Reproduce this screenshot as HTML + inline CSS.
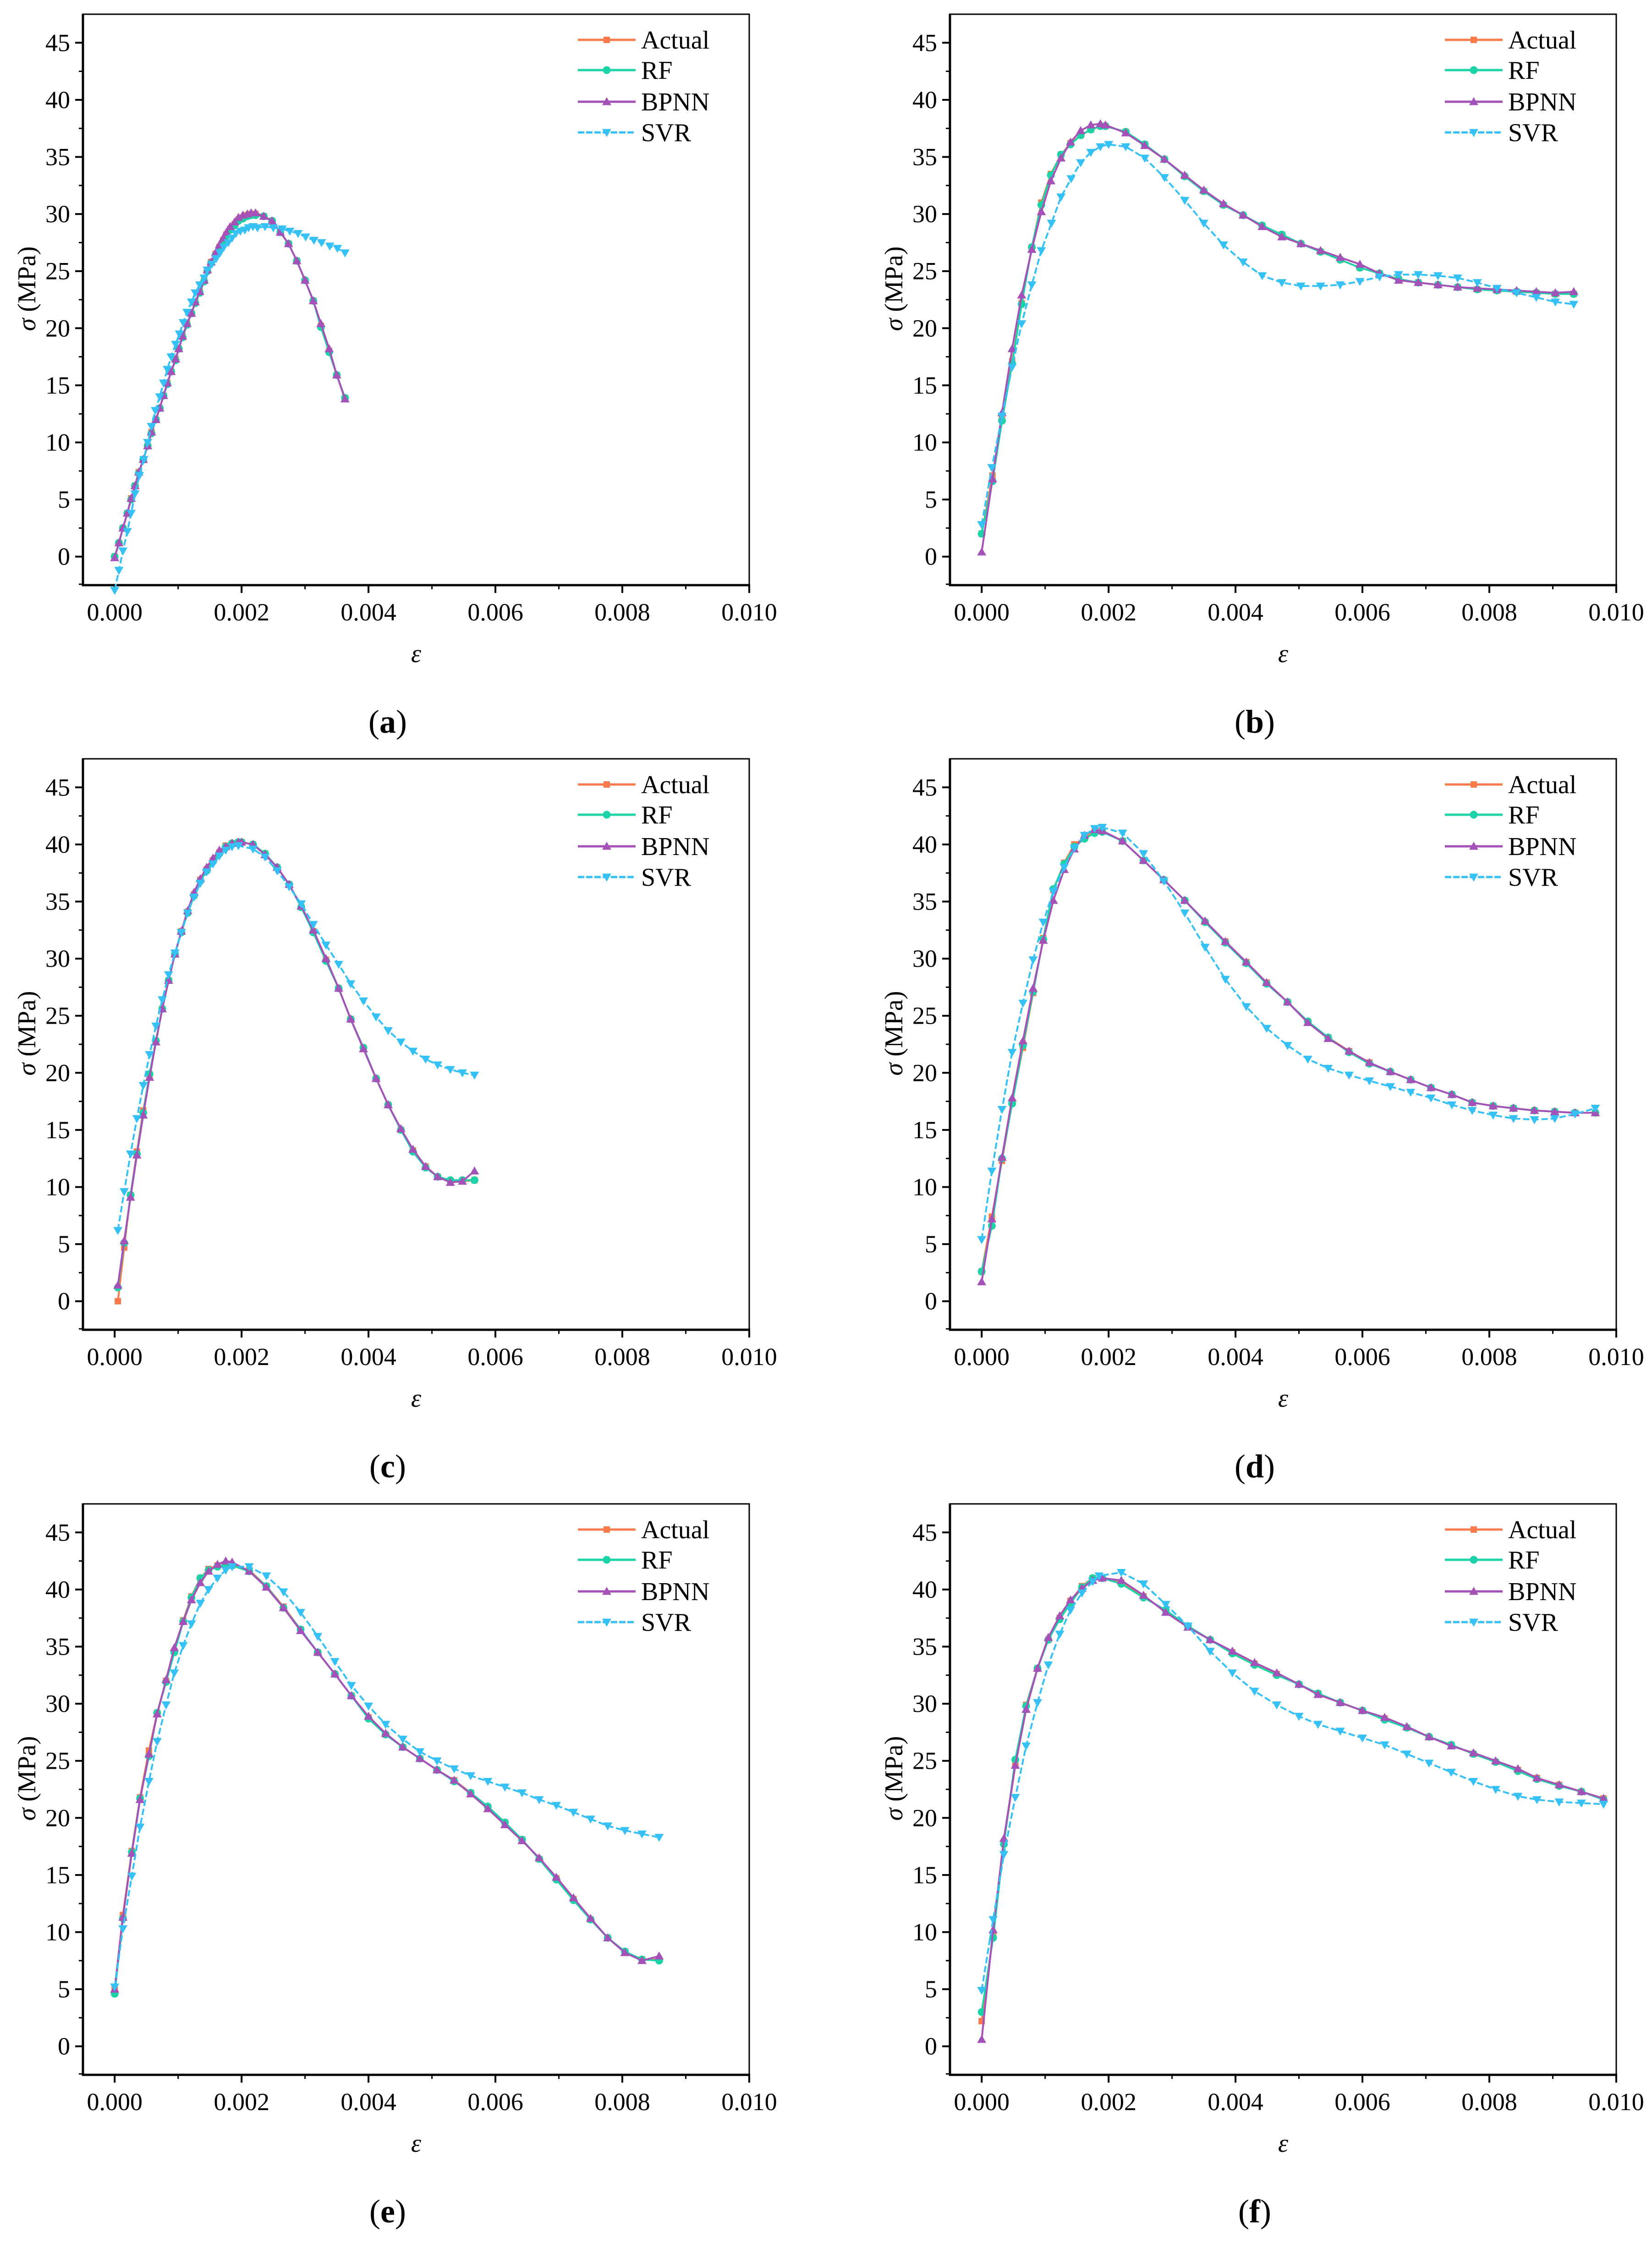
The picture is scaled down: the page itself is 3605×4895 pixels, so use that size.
<!DOCTYPE html>
<html><head><meta charset="utf-8">
<style>
html,body{margin:0;padding:0;background:#fff;}
svg{display:block;font-family:"Liberation Serif","DejaVu Serif",serif;}
svg text{font-family:"Liberation Serif","DejaVu Serif",serif;}
</style></head>
<body>
<svg id="fig" width="3605" height="4895" viewBox="0 0 3605 4895" xmlns="http://www.w3.org/2000/svg"></svg>
<script>
// ---------- data (strain in units of 0.001, stress in MPa) ----------
const aX = [0,0.067,0.13,0.2,0.26,0.32,0.38,0.45,0.52,0.58,0.65,0.71,0.77,0.83,0.89,0.96,1.01,1.07,1.14,1.21,1.27,1.34,1.41,1.46,1.52,1.59,1.65,1.71,1.76,1.82,1.89,1.95,2.02,2.09,2.15,2.22,2.35,2.48,2.61,2.74,2.87,3.0,3.13,3.25,3.38,3.5,3.63];
const aActual = [0,1.2,2.5,3.8,5.1,6.2,7.4,8.5,9.7,10.9,12.0,13.0,14.1,15.2,16.2,17.3,18.2,19.3,20.4,21.3,22.3,23.2,24.2,25.1,25.8,26.5,27.1,27.7,28.2,28.7,29.1,29.5,29.7,29.9,30.0,30.0,29.8,29.4,28.4,27.4,25.9,24.2,22.4,20.2,18.0,15.9,13.9];
const aRF = [0,1.2,2.5,3.8,5.0,6.2,7.3,8.5,9.7,10.8,12.0,13.0,14.1,15.1,16.2,17.2,18.2,19.2,20.3,21.3,22.2,23.1,24.1,25.0,25.7,26.4,27.0,27.6,28.1,28.6,29.0,29.4,29.6,29.8,29.9,29.9,29.8,29.4,28.4,27.4,25.9,24.2,22.4,20.1,17.9,15.9,13.9];
const aBPNN = [-0.1,1.2,2.5,3.8,5.1,6.2,7.4,8.5,9.7,10.9,12.0,13.0,14.1,15.2,16.2,17.3,18.2,19.3,20.4,21.3,22.3,23.2,24.2,25.1,25.8,26.6,27.3,27.9,28.4,28.9,29.3,29.7,29.9,30.0,30.1,30.1,29.8,29.4,28.4,27.4,25.9,24.2,22.4,20.4,18.2,15.9,13.8];
const aSvrX = [0,0.067,0.13,0.2,0.26,0.32,0.39,0.46,0.52,0.58,0.64,0.71,0.77,0.83,0.89,0.96,1.02,1.08,1.14,1.21,1.27,1.34,1.41,1.46,1.53,1.6,1.66,1.72,1.79,1.85,1.91,1.98,2.05,2.11,2.18,2.25,2.37,2.5,2.64,2.76,2.89,3.01,3.14,3.26,3.39,3.51,3.63];
const aSVR = [-2.95,-1.2,0.5,2.2,3.8,5.5,7.1,8.5,10.0,11.4,12.8,14.0,15.2,16.4,17.5,18.6,19.5,20.5,21.4,22.3,23.1,23.8,24.4,25.1,25.6,26.1,26.6,27.1,27.5,27.9,28.3,28.5,28.6,28.8,28.9,28.8,28.9,28.8,28.7,28.5,28.3,28.0,27.7,27.5,27.2,27.0,26.6];

const bX = [0,0.17,0.32,0.48,0.63,0.79,0.94,1.09,1.25,1.4,1.56,1.72,1.87,1.95,2.27,2.57,2.88,3.2,3.5,3.81,4.12,4.42,4.73,5.03,5.34,5.65,5.96,6.27,6.57,6.88,7.19,7.5,7.81,8.12,8.43,8.74,9.04,9.33];
const bActual = [2.0,7.1,12.1,17.1,22.2,27.1,31.0,33.5,35.2,36.2,36.9,37.4,37.7,37.7,37.2,36.1,34.8,33.3,32.0,30.8,29.9,29.0,28.2,27.4,26.7,26.0,25.3,24.8,24.3,24.0,23.8,23.6,23.4,23.3,23.2,23.1,23.0,23.0];
const bRF = [2.0,6.6,11.9,16.9,22.1,27.1,30.8,33.4,35.2,36.1,36.9,37.4,37.7,37.7,37.2,36.1,34.8,33.3,32.0,30.8,29.9,29.0,28.2,27.4,26.7,26.0,25.3,24.8,24.3,24.0,23.8,23.6,23.4,23.3,23.2,23.1,23.0,23.0];
const bBPNN = [0.4,6.8,12.6,18.2,22.9,26.9,30.2,32.9,34.9,36.3,37.3,37.8,37.9,37.8,37.1,36.0,34.8,33.4,32.1,30.9,29.9,28.9,28.0,27.4,26.8,26.2,25.6,24.8,24.2,24.0,23.8,23.6,23.5,23.4,23.3,23.2,23.1,23.2];
const bSvrX = [0,0.16,0.32,0.48,0.63,0.79,0.94,1.1,1.25,1.41,1.56,1.72,1.87,2.0,2.27,2.57,2.88,3.2,3.5,3.81,4.12,4.42,4.73,5.03,5.34,5.65,5.96,6.27,6.57,6.88,7.19,7.5,7.81,8.12,8.43,8.74,9.04,9.33];
const bSVR = [2.8,7.8,12.3,16.6,20.4,23.8,26.8,29.2,31.5,33.1,34.5,35.4,35.9,36.1,35.9,34.9,33.2,31.2,29.2,27.3,25.8,24.6,24.0,23.7,23.7,23.8,24.1,24.5,24.7,24.7,24.6,24.4,24.0,23.5,23.1,22.7,22.3,22.1];

const cX = [0.05,0.15,0.25,0.35,0.45,0.55,0.65,0.75,0.85,0.95,1.05,1.15,1.25,1.35,1.45,1.55,1.65,1.75,1.85,1.95,2.0,2.18,2.37,2.56,2.75,2.94,3.13,3.33,3.53,3.72,3.92,4.12,4.31,4.51,4.7,4.9,5.09,5.29,5.48,5.67];
const cActual = [0.0,4.7,9.3,13.1,16.7,19.8,22.8,25.6,28.1,30.4,32.4,34.1,35.6,36.9,37.8,38.6,39.3,39.9,40.1,40.2,40.2,40.0,39.2,38.0,36.5,34.5,32.4,29.9,27.4,24.7,22.2,19.5,17.2,15.0,13.2,11.8,10.9,10.5,10.5,10.6];
const cRF = [1.2,5.1,9.3,12.9,16.5,19.9,22.8,25.6,28.1,30.4,32.3,34.0,35.5,36.8,37.7,38.5,39.2,39.8,40.1,40.2,40.2,40.0,39.2,38.0,36.5,34.5,32.3,29.8,27.4,24.7,22.2,19.5,17.2,15.0,13.1,11.7,10.9,10.6,10.6,10.6];
const cBPNN = [1.4,5.3,9.1,12.8,16.3,19.6,22.7,25.6,28.1,30.4,32.4,34.2,35.8,37.0,38.0,38.8,39.5,39.8,40.1,40.2,40.2,40.0,39.1,38.0,36.5,34.6,32.5,30.0,27.4,24.7,22.1,19.5,17.2,15.1,13.3,11.8,10.9,10.4,10.5,11.4];
const cSvrX = [0.05,0.15,0.25,0.35,0.45,0.55,0.65,0.75,0.85,0.95,1.05,1.15,1.25,1.35,1.45,1.55,1.65,1.75,1.85,1.95,2.18,2.37,2.56,2.75,2.94,3.13,3.33,3.53,3.72,3.92,4.12,4.31,4.51,4.7,4.9,5.09,5.29,5.48,5.67];
const cSVR = [6.2,9.6,12.9,16.0,18.9,21.6,24.1,26.4,28.6,30.5,32.3,34.0,35.4,36.6,37.6,38.3,39.0,39.5,39.8,39.9,39.6,38.9,37.7,36.3,34.8,33.0,31.2,29.5,27.8,26.3,24.9,23.7,22.7,21.9,21.2,20.7,20.3,20.0,19.8];

const dX = [0,0.16,0.32,0.48,0.65,0.81,0.97,1.13,1.3,1.46,1.62,1.78,1.9,2.22,2.55,2.87,3.2,3.52,3.84,4.17,4.49,4.82,5.14,5.46,5.79,6.11,6.44,6.76,7.08,7.41,7.73,8.06,8.38,8.71,9.03,9.35,9.67];
const dActual = [2.6,7.4,12.3,17.4,22.2,27.0,31.8,36.0,38.4,40.0,40.6,41.1,41.2,40.3,38.6,36.9,35.1,33.2,31.5,29.7,27.9,26.2,24.5,23.1,21.9,20.9,20.1,19.4,18.7,18.1,17.4,17.1,16.9,16.7,16.6,16.5,16.5];
const dRF = [2.6,6.6,12.5,17.3,22.4,27.1,31.7,36.1,38.3,39.8,40.5,41.0,41.1,40.3,38.6,36.9,35.1,33.2,31.4,29.6,27.8,26.2,24.5,23.1,21.8,20.8,20.1,19.4,18.7,18.1,17.4,17.1,16.9,16.7,16.6,16.5,16.5];
const dBPNN = [1.7,7.2,12.6,17.8,22.8,27.4,31.6,35.1,37.8,39.6,40.8,41.3,41.2,40.3,38.6,36.9,35.1,33.3,31.5,29.7,27.9,26.2,24.4,23.0,21.9,20.9,20.1,19.4,18.7,18.1,17.4,17.1,16.9,16.7,16.6,16.5,16.5];
const dSvrX = [0,0.16,0.32,0.48,0.65,0.81,0.97,1.13,1.3,1.46,1.62,1.78,1.9,2.22,2.55,2.87,3.2,3.52,3.84,4.17,4.49,4.82,5.14,5.46,5.79,6.11,6.44,6.76,7.08,7.41,7.73,8.06,8.38,8.71,9.03,9.35,9.67];
const dSVR = [5.4,11.4,16.8,21.8,26.1,29.9,33.2,35.9,38.0,39.7,40.8,41.4,41.5,41.0,39.2,36.8,34.0,31.0,28.2,25.8,23.9,22.4,21.2,20.4,19.8,19.3,18.8,18.3,17.8,17.2,16.7,16.3,16.0,15.9,16.0,16.4,16.9];

const eX = [0,0.13,0.27,0.4,0.54,0.67,0.81,0.94,1.08,1.21,1.35,1.48,1.62,1.75,1.85,2.12,2.39,2.66,2.93,3.2,3.47,3.73,4.0,4.27,4.54,4.81,5.08,5.35,5.61,5.88,6.15,6.42,6.69,6.96,7.23,7.5,7.77,8.04,8.31,8.58];
const eActual = [5.0,11.5,17.1,21.8,25.9,29.2,32.0,34.6,37.3,39.4,41.0,41.8,42.1,42.1,42.1,41.7,40.3,38.5,36.5,34.5,32.6,30.7,28.8,27.3,26.2,25.2,24.2,23.3,22.2,20.9,19.6,18.1,16.4,14.7,12.9,11.1,9.5,8.3,7.6,7.6];
const eRF = [4.6,11.2,17.0,21.7,25.4,29.2,31.9,34.5,37.2,39.3,41.0,41.7,42.0,42.1,42.1,41.6,40.3,38.4,36.5,34.5,32.6,30.7,28.7,27.3,26.2,25.2,24.2,23.2,22.2,21.0,19.6,18.1,16.4,14.6,12.8,11.1,9.5,8.3,7.6,7.5];
const eBPNN = [5.0,11.3,16.9,21.6,25.6,29.1,32.1,34.9,37.2,39.1,40.6,41.6,42.2,42.5,42.4,41.6,40.2,38.4,36.4,34.5,32.6,30.7,28.9,27.4,26.2,25.2,24.2,23.3,22.1,20.8,19.4,18.0,16.5,14.8,13.0,11.2,9.5,8.2,7.5,7.9];
const eSvrX = [0,0.13,0.27,0.4,0.54,0.67,0.81,0.94,1.08,1.21,1.35,1.48,1.62,1.75,1.85,2.12,2.39,2.66,2.93,3.2,3.47,3.73,4.0,4.27,4.54,4.81,5.08,5.35,5.61,5.88,6.15,6.42,6.69,6.96,7.23,7.5,7.77,8.04,8.31,8.58];
const eSVR = [5.2,10.3,14.9,19.2,23.2,26.7,29.9,32.7,35.1,37.0,38.8,40.0,41.0,41.7,42.0,42.0,41.2,39.8,38.0,35.9,33.7,31.6,29.8,28.2,26.9,25.8,25.0,24.3,23.7,23.2,22.7,22.2,21.6,21.1,20.5,19.9,19.3,18.9,18.6,18.3];

const fX = [0,0.18,0.35,0.53,0.7,0.88,1.05,1.23,1.4,1.58,1.75,1.9,2.2,2.55,2.9,3.25,3.6,3.95,4.3,4.65,5.0,5.3,5.65,6.0,6.35,6.7,7.05,7.4,7.75,8.1,8.45,8.75,9.1,9.45,9.8];
const fActual = [2.2,9.8,17.9,24.6,29.9,33.1,35.6,37.5,39.0,40.3,41.0,41.0,40.6,39.4,38.1,36.8,35.6,34.5,33.5,32.6,31.7,30.9,30.1,29.4,28.7,27.9,27.1,26.4,25.6,24.9,24.2,23.5,22.9,22.3,21.7];
const fRF = [3.0,9.5,17.7,25.1,29.8,33.1,35.6,37.4,38.8,40.2,41.0,41.0,40.5,39.3,38.2,36.8,35.6,34.4,33.4,32.5,31.7,30.9,30.1,29.4,28.6,27.9,27.1,26.4,25.6,24.9,24.1,23.4,22.8,22.3,21.6];
const fBPNN = [0.6,10.2,18.2,24.6,29.5,33.1,35.8,37.7,39.1,40.1,40.8,41.0,40.8,39.5,38.0,36.7,35.6,34.6,33.6,32.7,31.7,30.8,30.1,29.4,28.8,28.0,27.1,26.3,25.7,25.0,24.3,23.5,22.9,22.3,21.7];
const fSvrX = [0,0.18,0.35,0.53,0.7,0.88,1.05,1.23,1.4,1.58,1.75,1.85,2.2,2.55,2.9,3.25,3.6,3.95,4.3,4.65,5.0,5.3,5.65,6.0,6.35,6.7,7.05,7.4,7.75,8.1,8.45,8.75,9.1,9.45,9.8];
const fSVR = [4.9,11.1,16.8,21.8,26.3,30.1,33.4,36.1,38.2,39.7,40.7,41.2,41.5,40.5,38.7,36.8,34.6,32.7,31.1,29.9,28.9,28.2,27.6,27.0,26.4,25.6,24.8,24.0,23.2,22.5,21.9,21.6,21.4,21.3,21.2];

const xTickLabels = ["0.000","0.002","0.004","0.006","0.008","0.010"];
const yTickLabels = ["0","5","10","15","20","25","30","35","40","45"];
const seriesNames = ["Actual","RF","BPNN","SVR"];

// ---------- drawing ----------
const NS = "http://www.w3.org/2000/svg";
const svg = document.getElementById("fig");
const FONT = '"Liberation Serif", "DejaVu Serif", serif';
const COLORS = {Actual:"#f97a4a", RF:"#1bd3a6", BPNN:"#a552b8", SVR:"#36c1f5"};
function mk(tag, attrs, parent){
  const e = document.createElementNS(NS, tag);
  for (const k in attrs) e.setAttribute(k, attrs[k]);
  if (tag==="text") e.setAttribute("font-family", FONT);
  (parent||svg).appendChild(e);
  return e;
}
function marker(g, kind, cx, cy, col){
  const s = 10;
  let m;
  if (kind==="Actual") m = mk("rect",{x:cx-7,y:cy-7,width:14,height:14,fill:col},g);
  else if (kind==="RF") m = mk("circle",{cx:cx,cy:cy,r:8.5,fill:col},g);
  else if (kind==="BPNN") m = mk("polygon",{points:`${cx},${cy-s} ${cx+s},${cy+s*0.75} ${cx-s},${cy+s*0.75}`,fill:col},g);
  else m = mk("polygon",{points:`${cx},${cy+s} ${cx+s},${cy-s*0.75} ${cx-s},${cy-s*0.75}`,fill:col},g);
  return m;
}

const panels = [
  {id:"a", ox:0, oy:0, x:aX, ys:{Actual:aActual,RF:aRF,BPNN:aBPNN}, sx:aSvrX, svr:aSVR},
  {id:"b", ox:1892, oy:0, x:bX, ys:{Actual:bActual,RF:bRF,BPNN:bBPNN}, sx:bSvrX, svr:bSVR},
  {id:"c", ox:0, oy:1625, x:cX, ys:{Actual:cActual,RF:cRF,BPNN:cBPNN}, sx:cSvrX, svr:cSVR},
  {id:"d", ox:1892, oy:1625, x:dX, ys:{Actual:dActual,RF:dRF,BPNN:dBPNN}, sx:dSvrX, svr:dSVR},
  {id:"e", ox:0, oy:3251, x:eX, ys:{Actual:eActual,RF:eRF,BPNN:eBPNN}, sx:eSvrX, svr:eSVR},
  {id:"f", ox:1892, oy:3251, x:fX, ys:{Actual:fActual,RF:fRF,BPNN:fBPNN}, sx:fSvrX, svr:fSVR}
];

panels.forEach(p=>{
  const L = 181+p.ox, R = 1635+p.ox, T = 31+p.oy, B = 1277+p.oy;
  const xmin=-0.5, xmax=10, ymin=-2.5, ymax=47.5;
  const X = v => L + (v-xmin)/(xmax-xmin)*(R-L);
  const Y = v => B - (v-ymin)/(ymax-ymin)*(B-T);
  const g = mk("g",{});
  
  

  const fr = mk("rect",{x:L,y:T,width:R-L,height:B-T,fill:"none",stroke:"#000","stroke-width":3},g);
  
  
  const la = mk("line",{x1:L,y1:T-1,x2:L,y2:B+2,stroke:"#000","stroke-width":5},g);
  
  
  const ba = mk("line",{x1:L-2,y1:B,x2:R+2,y2:B,stroke:"#000","stroke-width":5},g);
  
  

  yTickLabels.forEach((lab,i)=>{
    const v = Number(lab), y = Y(v);
    mk("line",{x1:L-17,y1:y,x2:L,y2:y,stroke:"#000","stroke-width":4},g);
    const t = mk("text",{x:L-28,y:y+18,"font-size":54,"text-anchor":"end",fill:"#000"},g);
    t.textContent = lab;
    
    
    const ym = Y(v+2.5);
    if (v+2.5 < ymax) mk("line",{x1:L-9,y1:ym,x2:L,y2:ym,stroke:"#000","stroke-width":3},g);
  });
  mk("line",{x1:L-9,y1:Y(-2.5)-2,x2:L,y2:Y(-2.5)-2,stroke:"#000","stroke-width":3},g);
  xTickLabels.forEach(lab=>{
    const v = Number(lab)*1000, x = X(v);
    mk("line",{x1:x,y1:B,x2:x,y2:B+17,stroke:"#000","stroke-width":4},g);
    const t = mk("text",{x:x,y:B+77,"font-size":54,"text-anchor":"middle",fill:"#000"},g);
    t.textContent = lab;
    
    
    if (v+1 < xmax) mk("line",{x1:X(v+1),y1:B,x2:X(v+1),y2:B+9,stroke:"#000","stroke-width":3},g);
  });
  const yt = mk("text",{x:0,y:0,"font-size":56,"text-anchor":"middle",fill:"#000",transform:`translate(${L-104},${(T+B)/2-24}) rotate(-90)`},g);
  yt.innerHTML = '<tspan font-style="italic">σ</tspan> (MPa)';
  
  
  const xt = mk("text",{x:(L+R)/2,y:B+168,"font-size":56,"font-style":"italic","text-anchor":"middle",fill:"#000"},g);
  xt.textContent = "ε";
  
  
  const pl = mk("text",{x:(L+R)/2-62,y:B+322,"font-size":72,"text-anchor":"middle",fill:"#000"},g);
  pl.innerHTML = '(<tspan font-weight="bold">'+p.id+'</tspan>)';
  
  

  ["Actual","RF","BPNN","SVR"].forEach(name=>{
    const xs = name==="SVR" ? p.sx : p.x;
    const ys = name==="SVR" ? p.svr : p.ys[name];
    const col = COLORS[name];
    const sg = mk("g",{},g);
    
    
    const pts = xs.map((v,i)=>X(v).toFixed(1)+","+Y(ys[i]).toFixed(1)).join(" ");
    const attrs = {points:pts,fill:"none",stroke:col,"stroke-width":4,"stroke-linejoin":"round"};
    if (name==="SVR") attrs["stroke-dasharray"]="14 6";
    const ln = mk("polyline",attrs,sg);
    
    
    xs.forEach((v,i)=>{
      const m = marker(sg,name,X(v),Y(ys[i]),col);
      
      
    });
  });

  const lg = mk("g",{},g);
  
  
  const rows = [87,153,222,289];
  seriesNames.forEach((name,i)=>{
    const y = rows[i]+p.oy, col = COLORS[name];
    const eg = mk("g",{},lg);
    
    
    const a = {x1:1261+p.ox,y1:y,x2:1387+p.ox,y2:y,stroke:col,"stroke-width":5};
    if (name==="SVR") a["stroke-dasharray"]="14 4";
    mk("line",a,eg);
    marker(eg,name,1324+p.ox,y,col);
    const t = mk("text",{x:1399+p.ox,y:y+19,"font-size":56,fill:"#000"},eg);
    t.textContent = name;
  });
});
</script>
</body></html>
